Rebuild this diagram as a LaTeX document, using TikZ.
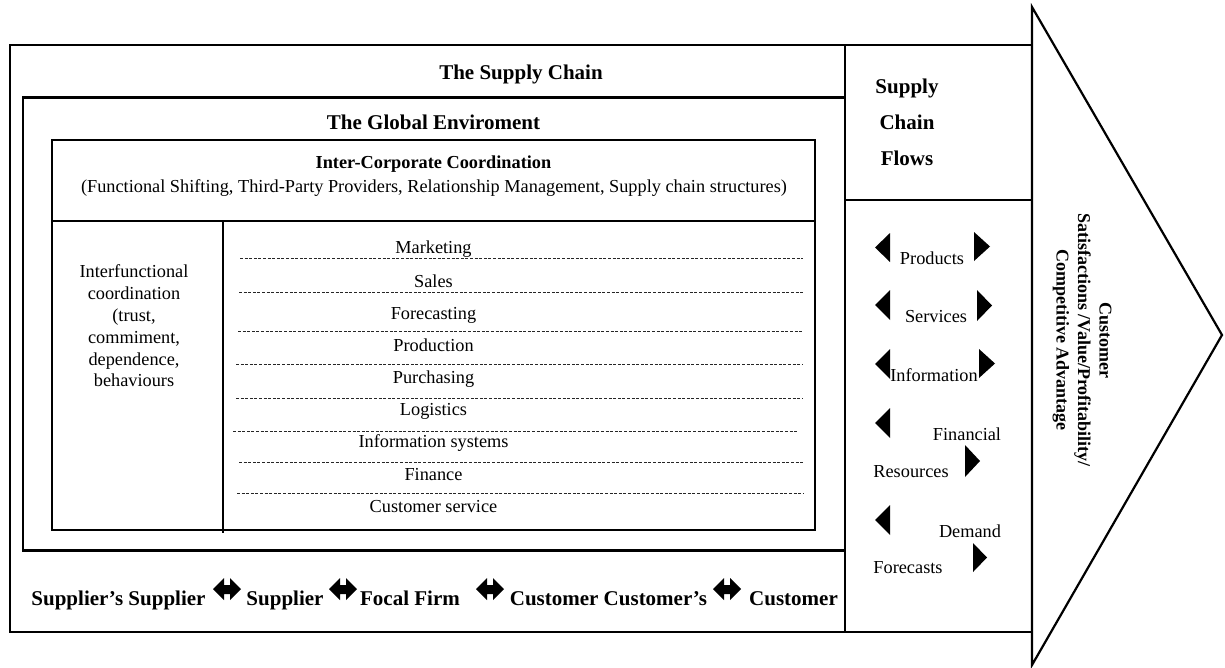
\documentclass[tikz,border=0pt]{standalone}
\usepackage{fontspec}
\setmainfont{Liberation Serif}
\begin{document}
\begin{tikzpicture}[x=1pt,y=-1pt,
  frame/.style={draw=black, line width=2.4pt},
  rule/.style={draw=black, line width=1.5pt},
  dashrule/.style={draw=black!85, line width=0.8pt, dash pattern=on 3pt off 1.6pt},
  lbl/.style={inner sep=0pt, font=\fontsize{18.3}{21.8}\selectfont},
  hd/.style={inner sep=0pt, font=\fontsize{21}{25}\selectfont\bfseries},
  subhd/.style={inner sep=0pt, font=\fontsize{18.3}{22}\selectfont\bfseries},
  tri/.style={fill=black}]
\useasboundingbox (0,0) rectangle (1225,667);
% arrow / chevron
\draw[line width=2.2pt, line join=miter] (1032,7) -- (1222,335) -- (1032,665) -- cycle;
% outer supply chain box
\draw[frame] (10,45) rectangle (1032,632);
\draw[rule, line width=1.8pt] (845,45) -- (845,632);
\draw[rule, line width=2pt] (845,200) -- (1032,200);
% global environment box
\draw[frame, line width=2.8pt] (23,97.5) rectangle (845,550.5);
% inter-corporate box
\draw[frame] (52,140) rectangle (815,530);
\draw[rule] (52,221) -- (815,221);
\draw[rule] (223,221) -- (223,533);
% titles
\node[hd, anchor=base] (sc) at (521,79) {The Supply Chain};
\node[hd, anchor=base] (ge) at (433.5,129) {The Global Enviroment};
\node[subhd, anchor=base] (icc) at (433.5,168) {Inter-Corporate Coordination};
\node[lbl, anchor=base] (iccsub) at (434,192) {(Functional Shifting, Third-Party Providers, Relationship Management, Supply chain structures)};
% interfunctional text
\node[lbl, align=center] (ifc) at (134,326) {Interfunctional\\coordination\\(trust,\\commiment,\\dependence,\\behaviours};
% dashed separators
\foreach \yy/\xl/\xr in {258.5/240/803, 292.5/239/803, 331.5/238/803, 364/236/803, 398/236/803, 431/233/797, 462/239/803, 493/237/803}
  \draw[dashrule] (\xl,\yy) -- (\xr,\yy);
% function labels
\foreach \nm/\yy/\tx in {mk/253/Marketing, sa/287/Sales, fc/319/Forecasting, pr/351/Production, pu/383/Purchasing, lo/415/Logistics, is/447/Information systems, fi/480/Finance, cs/512/Customer service}
  \node[lbl, anchor=base] (\nm) at (433.5,\yy) {\tx};
% supply chain flows heading
\node[hd, anchor=base] (f1) at (907,93) {Supply};
\node[hd, anchor=base] (f2) at (907,129) {Chain};
\node[hd, anchor=base] (f3) at (907,165) {Flows};
% flows
\node[lbl, anchor=base] (prod) at (932,264) {Products};
\node[lbl, anchor=base] (serv) at (936,322) {Services};
\node[lbl, anchor=base] (info) at (934,381) {Information};
\node[lbl, anchor=base] (fin) at (967,440) {Financial};
\node[lbl, anchor=base] (res) at (911,477) {Resources};
\node[lbl, anchor=base] (dem) at (970,537) {Demand};
\node[lbl, anchor=base] (fore) at (908,573) {Forecasts};
% flow triangles (left-pointing: xl, xr, ytop, ybot)
\foreach \xl/\xr/\yt/\yb in {875/890/233/262, 875/890/290/320, 875/890/349/379, 875/890/408/438, 875/890/505/535}
  \fill[tri] (\xl,{(\yt+\yb)/2}) -- (\xr,\yt) -- (\xr,\yb) -- cycle;
% right-pointing
\foreach \xl/\xr/\yt/\yb in {974/990/232/261, 977/992/290/321, 979/995/349/378, 965/980/445/477, 973/987/543/572}
  \fill[tri] (\xr,{(\yt+\yb)/2}) -- (\xl,\yt) -- (\xl,\yb) -- cycle;
% rotated text
\node[inner sep=0pt, rotate=-90, align=center, font=\fontsize{18}{21.5}\selectfont\bfseries] (cust) at (1082,340)
  {Customer\\Satisfactions /Value/Profitability/\\Competitive Advantage};
% bottom chain
\node[hd, anchor=base] (b1) at (118.5,605) {Supplier’s Supplier};
\node[hd, anchor=base] (b2) at (285,605) {Supplier};
\node[hd, anchor=base] (b3) at (410,605) {Focal Firm};
\node[hd, anchor=base] (b4) at (608.5,605) {Customer Customer’s};
\node[hd, anchor=base] (b5) at (793.5,605) {Customer};
\foreach \x in {213,329,476,713}
  \fill[tri] (\x,589) -- (\x+11,578) -- (\x+11,585) -- (\x+17,585) -- (\x+17,578) -- (\x+28,589)
    -- (\x+17,600) -- (\x+17,594) -- (\x+11,594) -- (\x+11,600) -- cycle;
\end{tikzpicture}
\end{document}
